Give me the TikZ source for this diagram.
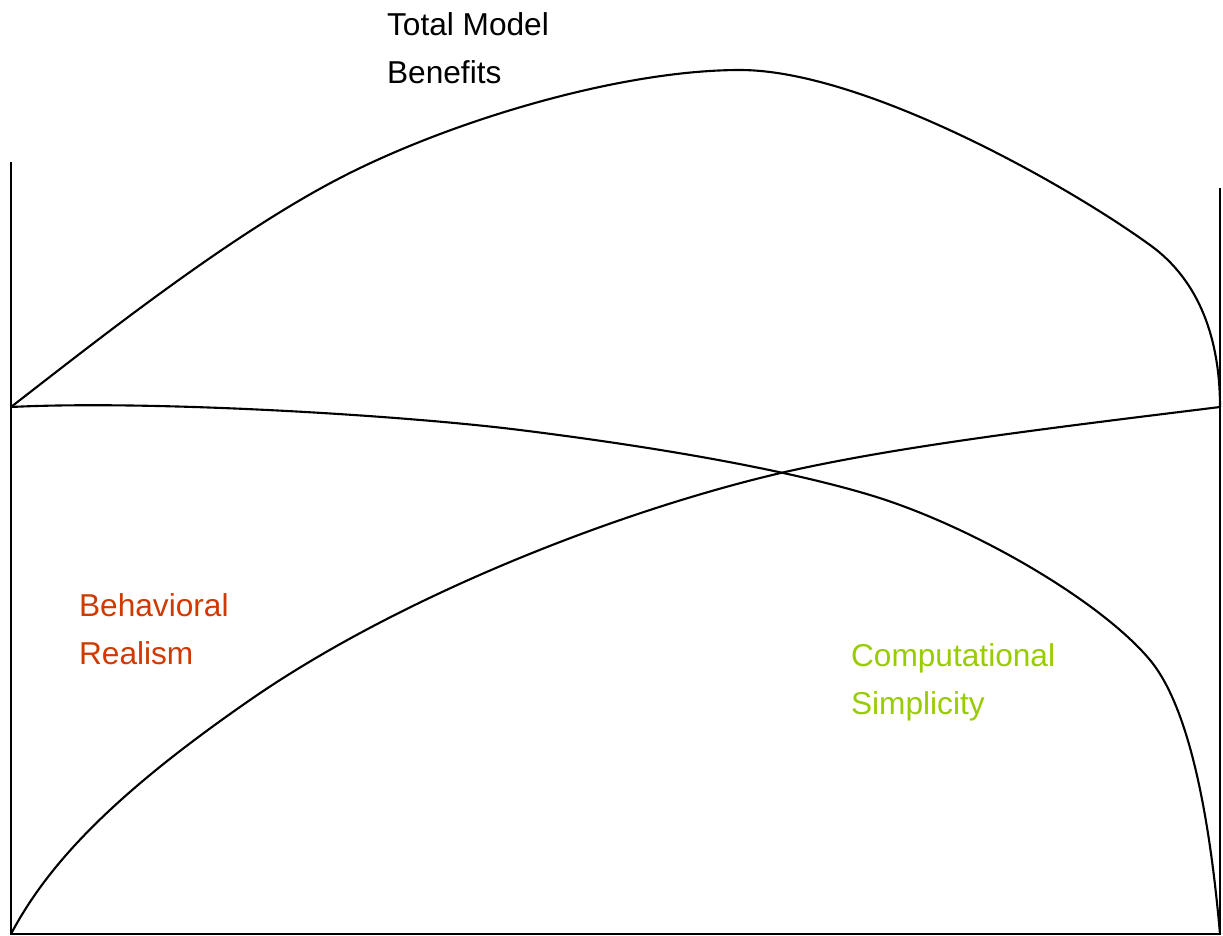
\documentclass[tikz,border=0pt]{standalone}
\usepackage{fontspec}
\setmainfont{Liberation Sans}
\usetikzlibrary{positioning}
\definecolor{realism}{RGB}{208,58,0}
\definecolor{simplicity}{RGB}{153,204,0}

\begin{document}
\begin{tikzpicture}[x=0.01cm,y=-0.01cm,line width=0.6pt,
	lbl/.style={anchor=north west,inner sep=0pt,align=left,font=\fontsize{9}{13.4}\selectfont}]
		\useasboundingbox (0,0) rectangle (1223,936);
		\coordinate (ltop) at (11,162);
		\coordinate (origin) at (11,934);
		\coordinate (rbot) at (1220,934);
		\coordinate (rtop) at (1220,188);
		\coordinate (left) at (11,407);
		\coordinate (right) at (1220,407);
		% axes
		\draw (ltop)--(origin)--(rbot)--(rtop);
		% total benefits
		\draw (left) .. controls (100,338) and (230,235) .. (340,178)
			.. controls (450,121) and (620,70) .. (740,70)
			.. controls (860,70) and (1060,180) .. (1150,245)
			.. controls (1200,281) and (1220,340) .. (right);
		% behavioral realism
		\draw (left) .. controls (150,400) and (400,415) .. (520,430)
			.. controls (600,440) and (760,462) .. (870,495)
			.. controls (970,525) and (1100,600) .. (1150,660)
			.. controls (1190,708) and (1210,820) .. (rbot);
		% computational simplicity
		\draw (origin) .. controls (50,860) and (120,790) .. (250,700)
			.. controls (400,596) and (620,510) .. (785,472)
			.. controls (900,446) and (1050,428) .. (right);
		\node[lbl] (total) at (386,12) {Total Model\\Benefits};
		\node[lbl,text=realism] (behav) at (78,593) {Behavioral\\Realism};
		\node[lbl,text=simplicity] (comput) at (850,643) {Computational\\Simplicity};
	\end{tikzpicture}
\end{document}
